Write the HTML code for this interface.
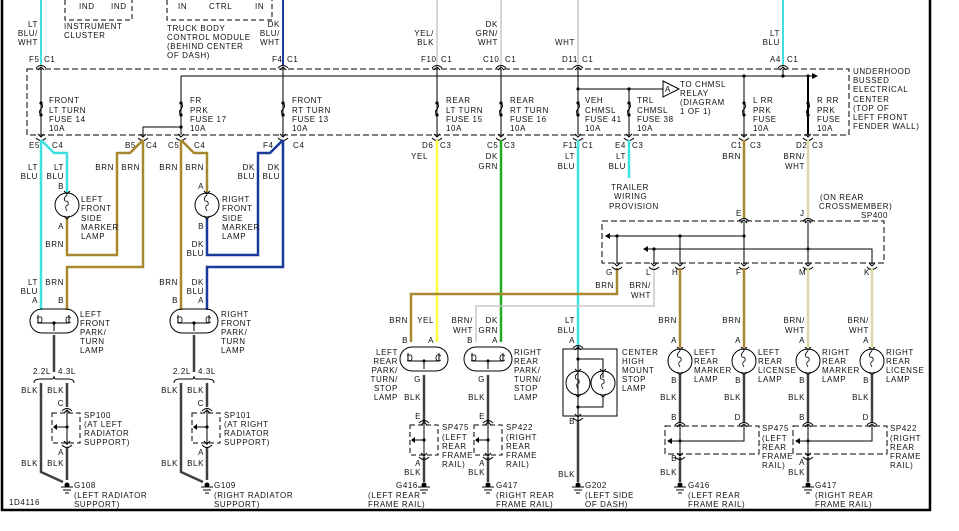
<!DOCTYPE html>
<html><head><meta charset="utf-8"><style>
html,body{margin:0;padding:0;background:#fff;width:959px;height:531px;overflow:hidden}
svg{display:block}
text{font-family:"Liberation Sans",sans-serif;font-size:8px;fill:#111;letter-spacing:0.6px}
</style></head><body>
<svg width="959" height="531" viewBox="0 0 959 531" xmlns="http://www.w3.org/2000/svg">
<defs>
<g id="ct"><path d="M-5,1 Q0,-4 5,1" fill="none" stroke="#000" stroke-width="1"/><path d="M-3,3 L0,0 L3,3" fill="none" stroke="#000" stroke-width="1"/></g>
<g id="cb"><path d="M-5,-1 Q0,4 5,-1" fill="none" stroke="#000" stroke-width="1"/><path d="M-3,-5 L0,-2 L3,-5" fill="none" stroke="#000" stroke-width="1"/></g>
<g id="fuse"><circle cx="0" cy="-9" r="1.6" fill="#000"/><path d="M0,-9 q3,3 0,6 q-3,3 0,6" fill="none" stroke="#000"/><circle cx="0" cy="3" r="1.6" fill="#000"/></g>
<g id="gnd"><circle cx="0" cy="0" r="2.5" fill="#000"/><line x1="-6" y1="2" x2="6" y2="2" stroke="#000"/><line x1="-4" y1="5" x2="4" y2="5" stroke="#000"/><line x1="-2" y1="8" x2="2" y2="8" stroke="#000"/></g>
<g id="bulb"><circle cx="0" cy="0" r="12" fill="none" stroke="#000"/><path d="M0,-10 q-4,3 -2,6 q4,0 3,4 q-4,1 -1,6" fill="none" stroke="#000" stroke-width="0.8"/><path d="M-3,-14 L0,-11 L3,-14 M-3,11 L0,14 L3,11" fill="none" stroke="#000"/></g>
<g id="plamp"><rect x="-24" y="-12" width="48" height="24" rx="12" fill="none" stroke="#000"/><path d="M-16,-6 v8 h31 v-8 M0,2 v8" fill="none" stroke="#000"/><circle cx="0" cy="2" r="1.6" fill="#000"/><path d="M-17,-3 q5,-3 5,2 q0,4 -5,2 M17,-3 q-5,-3 -5,2 q0,4 5,2" fill="none" stroke="#000" stroke-width="0.8"/></g>
</defs>

<!-- frame -->
<path d="M2,0 V510 H930 V0" fill="none" stroke="#000" stroke-width="2.5"/>

<!-- top modules -->
<path d="M65,0 V20 H132 V0" fill="none" stroke="#000" stroke-dasharray="5,3"/>
<text x="79" y="9">IND</text><text x="111" y="9">IND</text>
<text x="64" y="29">INSTRUMENT</text><text x="64" y="38">CLUSTER</text>
<path d="M167,0 V20 H272 V0" fill="none" stroke="#000" stroke-dasharray="5,3"/>
<text x="178" y="9">IN</text><text x="209" y="9">CTRL</text><text x="255" y="9">IN</text>
<text x="167" y="31">TRUCK BODY</text><text x="167" y="40">CONTROL MODULE</text><text x="167" y="49">(BEHIND CENTER</text><text x="167" y="58">OF DASH)</text>

<!-- top wires -->
<line x1="41" y1="0" x2="41" y2="65" stroke="#40e0e0" stroke-width="2"/>
<line x1="283" y1="0" x2="283" y2="65" stroke="#1a3a9a" stroke-width="2"/>
<line x1="437" y1="0" x2="437" y2="65" stroke="#c8c8c8" stroke-width="1.5"/>
<line x1="501" y1="0" x2="501" y2="65" stroke="#c8c8c8" stroke-width="1.5"/>
<line x1="578" y1="0" x2="578" y2="65" stroke="#c8c8c8" stroke-width="1.5"/>
<line x1="783" y1="0" x2="783" y2="65" stroke="#40e0e0" stroke-width="2"/>

<g text-anchor="end">
<text x="38" y="27">LT</text><text x="38" y="36">BLU/</text><text x="38" y="45">WHT</text>
<text x="280" y="27">DK</text><text x="280" y="36">BLU/</text><text x="280" y="45">WHT</text>
<text x="434" y="36">YEL/</text><text x="434" y="45">BLK</text>
<text x="498" y="27">DK</text><text x="498" y="36">GRN/</text><text x="498" y="45">WHT</text>
<text x="575" y="45">WHT</text>
<text x="780" y="36">LT</text><text x="780" y="45">BLU</text>
</g>
<text x="29" y="62">F5</text><text x="44" y="62">C1</text>
<text x="272" y="62">F4</text><text x="287" y="62">C1</text>
<text x="421" y="62">F10</text><text x="441" y="62">C1</text>
<text x="483" y="62">C10</text><text x="505" y="62">C1</text>
<text x="562" y="62">D11</text><text x="582" y="62">C1</text>
<text x="770" y="62">A4</text><text x="787" y="62">C1</text>

<!-- bus box -->
<rect x="27" y="69" width="822" height="66" fill="none" stroke="#000" stroke-dasharray="6,3"/>
<text x="853" y="74">UNDERHOOD</text><text x="853" y="83">BUSSED</text><text x="853" y="92">ELECTRICAL</text><text x="853" y="102">CENTER</text><text x="853" y="111">(TOP OF</text><text x="853" y="120">LEFT FRONT</text><text x="853" y="129">FENDER WALL)</text>
<line x1="181" y1="76" x2="812" y2="76" stroke="#000"/>
<path d="M812,73 L818,76 L812,79 Z"/>
<circle cx="744" cy="76" r="1.6"/><circle cx="808" cy="76" r="1.6"/><circle cx="783" cy="76" r="1.6"/>
<line x1="783" y1="69" x2="783" y2="76" stroke="#000"/>
<g stroke="#000">
<line x1="41" y1="69" x2="41" y2="135"/><line x1="181" y1="76" x2="181" y2="135"/><line x1="283" y1="69" x2="283" y2="135"/>
<line x1="437" y1="69" x2="437" y2="135"/><line x1="501" y1="69" x2="501" y2="135"/><line x1="578" y1="69" x2="578" y2="135"/>
<line x1="629" y1="89" x2="629" y2="135"/><line x1="744" y1="76" x2="744" y2="135"/><line x1="808" y1="76" x2="808" y2="135" stroke-width="2"/>
<line x1="578" y1="89" x2="663" y2="89"/>
<path d="M181,127 H143 V135" fill="none"/>
</g>
<circle cx="578" cy="89" r="1.6"/><circle cx="629" cy="89" r="1.6"/><circle cx="181" cy="127" r="1.6"/>
<path d="M663,81 L679,89 L663,97 Z" fill="#fff" stroke="#000"/><text x="665" y="92">A</text>
<text x="680" y="87">TO CHMSL</text><text x="680" y="96">RELAY</text><text x="680" y="105">(DIAGRAM</text><text x="680" y="114">1 OF 1)</text>
<g>
<use href="#fuse" x="41" y="112"/><use href="#fuse" x="181" y="112"/><use href="#fuse" x="283" y="112"/><use href="#fuse" x="437" y="112"/><use href="#fuse" x="501" y="112"/><use href="#fuse" x="578" y="112"/><use href="#fuse" x="629" y="112"/><use href="#fuse" x="744" y="112"/><use href="#fuse" x="808" y="112"/>
</g>
<text x="49" y="103">FRONT</text><text x="49" y="113">LT TURN</text><text x="49" y="122">FUSE 14</text><text x="49" y="131">10A</text>
<text x="190" y="103">FR</text><text x="190" y="113">PRK</text><text x="190" y="122">FUSE 17</text><text x="190" y="131">10A</text>
<text x="292" y="103">FRONT</text><text x="292" y="113">RT TURN</text><text x="292" y="122">FUSE 13</text><text x="292" y="131">10A</text>
<text x="446" y="103">REAR</text><text x="446" y="113">LT TURN</text><text x="446" y="122">FUSE 15</text><text x="446" y="131">10A</text>
<text x="510" y="103">REAR</text><text x="510" y="113">RT TURN</text><text x="510" y="122">FUSE 16</text><text x="510" y="131">10A</text>
<text x="585" y="103">VEH</text><text x="585" y="113">CHMSL</text><text x="585" y="122">FUSE 41</text><text x="585" y="131">10A</text>
<text x="637" y="103">TRL</text><text x="637" y="113">CHMSL</text><text x="637" y="122">FUSE 38</text><text x="637" y="131">10A</text>
<text x="753" y="103">L RR</text><text x="753" y="113">PRK</text><text x="753" y="122">FUSE</text><text x="753" y="131">10A</text>
<text x="817" y="103">R RR</text><text x="817" y="113">PRK</text><text x="817" y="122">FUSE</text><text x="817" y="131">10A</text>

<!-- top connectors -->
<use href="#ct" x="41" y="67"/><use href="#ct" x="283" y="67"/><use href="#ct" x="437" y="67"/><use href="#ct" x="501" y="67"/><use href="#ct" x="578" y="67"/><use href="#ct" x="783" y="67"/>
<!-- bottom connectors -->
<use href="#cb" x="41" y="139"/><use href="#cb" x="143" y="139"/><use href="#cb" x="181" y="139"/><use href="#cb" x="283" y="139"/><use href="#cb" x="437" y="139"/><use href="#cb" x="501" y="139"/><use href="#cb" x="578" y="139"/><use href="#cb" x="629" y="139"/><use href="#cb" x="744" y="139"/><use href="#cb" x="808" y="139"/>
<text x="29" y="148">E5</text><text x="52" y="148">C4</text>
<text x="125" y="148">B5</text><text x="146" y="148">C4</text>
<text x="168" y="148">C5</text><text x="194" y="148">C4</text>
<text x="263" y="148">F4</text><text x="293" y="148">C4</text>
<text x="422" y="148">D6</text><text x="440" y="148">C3</text>
<text x="487" y="148">C5</text><text x="504" y="148">C3</text>
<text x="563" y="148">F11</text><text x="582" y="148">C1</text>
<text x="615" y="148">E4</text><text x="632" y="148">C3</text>
<text x="731" y="148">C1</text><text x="750" y="148">C3</text>
<text x="796" y="148">D2</text><text x="812" y="148">C3</text>

<!-- left front wiring -->
<g fill="none" stroke-width="2.5">
<path d="M41,140 V310" stroke="#40e0e0"/>
<path d="M41,140 L54,153 H67 V193" stroke="#40e0e0"/>
<path d="M143,140 L130,153 H117 V255 H67 V218" stroke="#a8882e"/>
<path d="M143,140 V267 H67 V310" stroke="#a8882e"/>
<path d="M181,140 V310" stroke="#a8882e"/>
<path d="M181,140 L194,153 H207 V193" stroke="#a8882e"/>
<path d="M207,218 V255 H258 V153 H270 L283,140" stroke="#1a3a9a"/>
<path d="M283,140 V267 H207 V310" stroke="#1a3a9a"/>
</g>
<use href="#bulb" x="67" y="205"/><use href="#bulb" x="207" y="205"/>
<text x="81" y="202">LEFT</text><text x="81" y="211">FRONT</text><text x="81" y="221">SIDE</text><text x="81" y="230">MARKER</text><text x="81" y="239">LAMP</text>
<text x="222" y="202">RIGHT</text><text x="222" y="211">FRONT</text><text x="222" y="221">SIDE</text><text x="222" y="230">MARKER</text><text x="222" y="239">LAMP</text>
<g text-anchor="end">
<text x="38" y="170">LT</text><text x="38" y="179">BLU</text>
<text x="64" y="170">LT</text><text x="64" y="179">BLU</text><text x="64" y="189">B</text>
<text x="64" y="229">A</text><text x="64" y="247">BRN</text>
<text x="114" y="170">BRN</text><text x="140" y="170">BRN</text>
<text x="178" y="170">BRN</text><text x="204" y="170">BRN</text><text x="204" y="189">A</text>
<text x="204" y="229">B</text><text x="204" y="247">DK</text><text x="204" y="256">BLU</text>
<text x="255" y="170">DK</text><text x="255" y="179">BLU</text>
<text x="280" y="170">DK</text><text x="280" y="179">BLU</text>
</g>

<!-- front park lamps -->
<use href="#plamp" x="54" y="321"/><use href="#plamp" x="194" y="321"/>
<g text-anchor="end">
<text x="38" y="285">LT</text><text x="38" y="294">BLU</text><text x="38" y="303">A</text>
<text x="64" y="285">BRN</text><text x="64" y="303">B</text>
<text x="178" y="285">BRN</text><text x="178" y="303">B</text>
<text x="204" y="285">DK</text><text x="204" y="294">BLU</text><text x="204" y="303">A</text>
</g>
<text x="80" y="317">LEFT</text><text x="80" y="326">FRONT</text><text x="80" y="335">PARK/</text><text x="80" y="344">TURN</text><text x="80" y="353">LAMP</text>
<text x="221" y="317">RIGHT</text><text x="221" y="326">FRONT</text><text x="221" y="335">PARK/</text><text x="221" y="344">TURN</text><text x="221" y="353">LAMP</text>

<!-- front grounds -->
<g fill="none" stroke="#404040" stroke-width="2.5">
<path d="M54,335 V372"/><path d="M41,383 V472 L63,482"/><path d="M67,383 V407 M67,447 V480"/>
<path d="M194,335 V372"/><path d="M181,383 V472 L203,482"/><path d="M207,383 V407 M207,447 V480"/>
</g>
<path d="M34,383 q0,-4 6,-4 h12 q2,0 2,-3 q0,3 2,3 h12 q6,0 6,4" fill="none" stroke="#000"/>
<path d="M174,383 q0,-4 6,-4 h12 q2,0 2,-3 q0,3 2,3 h12 q6,0 6,4" fill="none" stroke="#000"/>
<text x="33" y="374">2.2L</text><text x="58" y="374">4.3L</text>
<text x="173" y="374">2.2L</text><text x="198" y="374">4.3L</text>
<g text-anchor="end">
<text x="38" y="393">BLK</text><text x="64" y="393">BLK</text><text x="64" y="406">C</text><text x="64" y="455">A</text><text x="38" y="466">BLK</text><text x="64" y="466">BLK</text>
<text x="178" y="393">BLK</text><text x="204" y="393">BLK</text><text x="204" y="406">C</text><text x="204" y="455">A</text><text x="178" y="466">BLK</text><text x="204" y="466">BLK</text>
</g>
<rect x="52" y="413" width="28" height="30" fill="none" stroke="#000" stroke-dasharray="5,3"/>
<rect x="192" y="413" width="28" height="30" fill="none" stroke="#000" stroke-dasharray="5,3"/>
<g stroke="#000" fill="none"><path d="M67,411 V445 M67,427 H57"/><path d="M207,411 V445 M207,427 H197"/></g>
<circle cx="67" cy="427" r="1.6"/><circle cx="207" cy="427" r="1.6"/>
<path d="M57,424 L53,427 L57,430Z"/><path d="M197,424 L193,427 L197,430Z"/>
<use href="#ct" x="67" y="410"/><use href="#cb" x="67" y="446"/><use href="#ct" x="207" y="410"/><use href="#cb" x="207" y="446"/>
<text x="84" y="418">SP100</text><text x="84" y="427">(AT LEFT</text><text x="84" y="436">RADIATOR</text><text x="84" y="445">SUPPORT)</text>
<text x="224" y="418">SP101</text><text x="224" y="427">(AT RIGHT</text><text x="224" y="436">RADIATOR</text><text x="224" y="445">SUPPORT)</text>
<use href="#gnd" x="67" y="485"/><use href="#gnd" x="207" y="485"/>
<text x="74" y="488">G108</text><text x="74" y="498">(LEFT RADIATOR</text><text x="74" y="507">SUPPORT)</text>
<text x="214" y="488">G109</text><text x="214" y="498">(RIGHT RADIATOR</text><text x="214" y="507">SUPPORT)</text>
<text x="9" y="505">1D4116</text>

<!-- middle wires -->
<g fill="none">
<path d="M437,140 V342" stroke="#ffff40" stroke-width="2.5"/>
<path d="M501,140 V342" stroke="#22aa22" stroke-width="2.5"/>
<path d="M578,140 V348" stroke="#40e0e0" stroke-width="2.5"/>
<path d="M629,140 V178" stroke="#40e0e0" stroke-width="2.5"/>
<path d="M744,140 V218" stroke="#a8882e" stroke-width="2.5"/>
<path d="M808,140 V218" stroke="#ddd6a8" stroke-width="2.5"/>
<path d="M617,268 V294 H411 V342" stroke="#a8882e" stroke-width="2.5"/>
<path d="M654,268 V306 H476 V342" stroke="#c8c8c8" stroke-width="1.5"/>
</g>
<text x="428" y="159" text-anchor="end">YEL</text>
<text x="498" y="159" text-anchor="end">DK</text><text x="498" y="169" text-anchor="end">GRN</text>
<text x="575" y="159" text-anchor="end">LT</text><text x="575" y="169" text-anchor="end">BLU</text>
<text x="626" y="159" text-anchor="end">LT</text><text x="626" y="169" text-anchor="end">BLU</text>
<text x="741" y="159" text-anchor="end">BRN</text>
<text x="805" y="159" text-anchor="end">BRN/</text><text x="805" y="169" text-anchor="end">WHT</text>
<text x="611" y="190">TRAILER</text><text x="614" y="199">WIRING</text><text x="609" y="209">PROVISION</text>
<text x="820" y="200">(ON REAR</text><text x="819" y="209">CROSSMEMBER)</text><text x="861" y="218">SP400</text>

<!-- SP400 -->
<rect x="602" y="221" width="282" height="42" fill="none" stroke="#000" stroke-dasharray="6,3"/>
<use href="#ct" x="744" y="220"/><use href="#ct" x="808" y="220"/>
<text x="736" y="216">E</text><text x="800" y="216">J</text>
<g stroke="#000" fill="none">
<path d="M744,222 V264 M808,222 V264"/>
<path d="M610,236 H744 M617,236 V264 M680,236 V264"/>
<path d="M648,249 H872 V264 M654,249 V264"/>
</g>
<path d="M610,233 L605,236 L610,239Z"/><path d="M648,246 L643,249 L648,252Z"/>
<circle cx="617" cy="236" r="1.6"/><circle cx="680" cy="236" r="1.6"/><circle cx="744" cy="236" r="1.6"/><circle cx="654" cy="249" r="1.6"/><circle cx="808" cy="249" r="1.6"/>
<use href="#cb" x="617" y="268"/><use href="#cb" x="654" y="268"/><use href="#cb" x="680" y="268"/><use href="#cb" x="744" y="268"/><use href="#cb" x="808" y="268"/><use href="#cb" x="872" y="268"/>
<text x="606" y="275">G</text><text x="646" y="275">L</text><text x="672" y="275">H</text><text x="736" y="275">F</text><text x="799" y="275">M</text><text x="864" y="275">K</text>
<text x="614" y="288" text-anchor="end">BRN</text>
<text x="651" y="288" text-anchor="end">BRN/</text><text x="651" y="298" text-anchor="end">WHT</text>

<!-- rear lamps wires -->
<g fill="none" stroke-width="2.5">
<path d="M680,268 V348" stroke="#a8882e"/><path d="M744,268 V348" stroke="#a8882e"/>
<path d="M808,268 V348" stroke="#ddd6a8"/><path d="M872,268 V348" stroke="#ddd6a8"/>
</g>
<g text-anchor="end">
<text x="677" y="323">BRN</text><text x="741" y="323">BRN</text>
<text x="805" y="323">BRN/</text><text x="805" y="333">WHT</text>
<text x="869" y="323">BRN/</text><text x="869" y="333">WHT</text>
<text x="677" y="343">A</text><text x="741" y="343">A</text><text x="805" y="343">A</text><text x="869" y="343">A</text>
<text x="677" y="383">B</text><text x="741" y="383">B</text><text x="805" y="383">B</text><text x="869" y="383">B</text>
<text x="677" y="400">BLK</text><text x="741" y="400">BLK</text><text x="805" y="400">BLK</text><text x="869" y="400">BLK</text>
<text x="677" y="420">B</text><text x="741" y="420">D</text><text x="805" y="420">B</text><text x="869" y="420">D</text>
<text x="677" y="461">B</text><text x="805" y="465">A</text>
<text x="677" y="475">BLK</text><text x="805" y="475">BLK</text>
</g>
<use href="#bulb" x="680" y="361"/><use href="#bulb" x="744" y="361"/><use href="#bulb" x="808" y="361"/><use href="#bulb" x="872" y="361"/>
<text x="694" y="355">LEFT</text><text x="694" y="364">REAR</text><text x="694" y="373">MARKER</text><text x="694" y="382">LAMP</text>
<text x="758" y="355">LEFT</text><text x="758" y="364">REAR</text><text x="758" y="373">LICENSE</text><text x="758" y="382">LAMP</text>
<text x="822" y="355">RIGHT</text><text x="822" y="364">REAR</text><text x="822" y="373">MARKER</text><text x="822" y="382">LAMP</text>
<text x="886" y="355">RIGHT</text><text x="886" y="364">REAR</text><text x="886" y="373">LICENSE</text><text x="886" y="382">LAMP</text>
<g fill="none" stroke="#404040" stroke-width="2.5">
<path d="M680,375 V423 M744,375 V423 M808,375 V423 M872,375 V423"/>
<path d="M680,457 V482 M808,457 V482"/>
<path d="M424,375 V423 M424,457 V482 M488,375 V423 M488,457 V482"/>
<path d="M578,420 V482"/>
</g>
<rect x="665" y="426" width="94" height="28" fill="none" stroke="#000" stroke-dasharray="6,3"/>
<rect x="793" y="426" width="94" height="28" fill="none" stroke="#000" stroke-dasharray="6,3"/>
<g stroke="#000" fill="none"><path d="M680,425 V455 M744,425 V441 H672 M808,425 V455 M872,425 V441 H800"/></g>
<path d="M672,438 L667,441 L672,444Z"/><path d="M800,438 L795,441 L800,444Z"/>
<circle cx="680" cy="441" r="1.6"/><circle cx="808" cy="441" r="1.6"/>
<use href="#ct" x="680" y="424"/><use href="#ct" x="744" y="424"/><use href="#ct" x="808" y="424"/><use href="#ct" x="872" y="424"/>
<use href="#cb" x="680" y="458"/><use href="#cb" x="808" y="458"/>
<text x="762" y="431">SP475</text><text x="762" y="441">(LEFT</text><text x="762" y="450">REAR</text><text x="762" y="459">FRAME</text><text x="762" y="468">RAIL)</text>
<text x="890" y="431">SP422</text><text x="890" y="441">(RIGHT</text><text x="890" y="450">REAR</text><text x="890" y="459">FRAME</text><text x="890" y="468">RAIL)</text>
<use href="#gnd" x="680" y="485"/><use href="#gnd" x="808" y="485"/>
<text x="688" y="488">G416</text><text x="688" y="498">(LEFT REAR</text><text x="688" y="507">FRAME RAIL)</text>
<text x="815" y="488">G417</text><text x="815" y="498">(RIGHT REAR</text><text x="815" y="507">FRAME RAIL)</text>

<!-- rear park lamps -->
<use href="#plamp" x="424" y="359"/><use href="#plamp" x="488" y="359"/>
<g text-anchor="end">
<text x="408" y="323">BRN</text><text x="434" y="323">YEL</text>
<text x="473" y="323">BRN/</text><text x="473" y="333">WHT</text>
<text x="498" y="323">DK</text><text x="498" y="333">GRN</text>
<text x="408" y="343">B</text><text x="434" y="343">A</text><text x="473" y="343">B</text><text x="498" y="343">A</text>
<text x="398" y="355">LEFT</text><text x="398" y="364">REAR</text><text x="398" y="373">PARK/</text><text x="398" y="382">TURN/</text><text x="398" y="391">STOP</text><text x="398" y="400">LAMP</text>
<text x="421" y="382">G</text><text x="421" y="400">BLK</text><text x="421" y="419">E</text><text x="421" y="466">A</text><text x="421" y="475">BLK</text>
<text x="485" y="382">G</text><text x="485" y="400">BLK</text><text x="485" y="419">E</text><text x="485" y="466">A</text><text x="485" y="475">BLK</text>
<text x="575" y="323">LT</text><text x="575" y="333">BLU</text><text x="575" y="343">A</text>
<text x="575" y="424">B</text><text x="575" y="477">BLK</text>
</g>
<text x="514" y="355">RIGHT</text><text x="514" y="364">REAR</text><text x="514" y="373">PARK/</text><text x="514" y="382">TURN/</text><text x="514" y="391">STOP</text><text x="514" y="400">LAMP</text>
<rect x="410" y="425" width="28" height="30" fill="none" stroke="#000" stroke-dasharray="5,3"/>
<rect x="474" y="425" width="28" height="30" fill="none" stroke="#000" stroke-dasharray="5,3"/>
<g stroke="#000" fill="none"><path d="M424,423 V457 M424,440 H415 M488,423 V457 M488,440 H479"/></g>
<path d="M415,437 L411,440 L415,443Z"/><path d="M479,437 L475,440 L479,443Z"/>
<circle cx="424" cy="440" r="1.6"/><circle cx="488" cy="440" r="1.6"/>
<use href="#ct" x="424" y="422"/><use href="#cb" x="424" y="458"/><use href="#ct" x="488" y="422"/><use href="#cb" x="488" y="458"/>
<text x="442" y="430">SP475</text><text x="442" y="440">(LEFT</text><text x="442" y="449">REAR</text><text x="442" y="458">FRAME</text><text x="442" y="467">RAIL)</text>
<text x="506" y="430">SP422</text><text x="506" y="440">(RIGHT</text><text x="506" y="449">REAR</text><text x="506" y="458">FRAME</text><text x="506" y="467">RAIL)</text>
<use href="#gnd" x="424" y="485"/><use href="#gnd" x="488" y="485"/><use href="#gnd" x="578" y="485"/>
<text x="396" y="488">G416</text><text x="368" y="498">(LEFT REAR</text><text x="368" y="507">FRAME RAIL)</text>
<text x="496" y="488">G417</text><text x="496" y="498">(RIGHT REAR</text><text x="496" y="507">FRAME RAIL)</text>
<text x="585" y="488">G202</text><text x="585" y="498">(LEFT SIDE</text><text x="585" y="507">OF DASH)</text>

<!-- CHMSL -->
<rect x="563" y="349" width="54" height="67" fill="none" stroke="#000"/>
<g stroke="#000" fill="none"><path d="M578,347 V420 M578,359 H603 V378 M578,407 H603 V396"/></g>
<circle cx="578" cy="359" r="1.6"/><circle cx="578" cy="407" r="1.6"/>
<use href="#bulb" x="578" y="383"/><use href="#bulb" x="603" y="383"/>
<use href="#ct" x="578" y="347"/><use href="#cb" x="578" y="419"/>
<text x="622" y="355">CENTER</text><text x="622" y="364">HIGH</text><text x="622" y="373">MOUNT</text><text x="622" y="382">STOP</text><text x="622" y="391">LAMP</text>
</svg>
</body></html>
